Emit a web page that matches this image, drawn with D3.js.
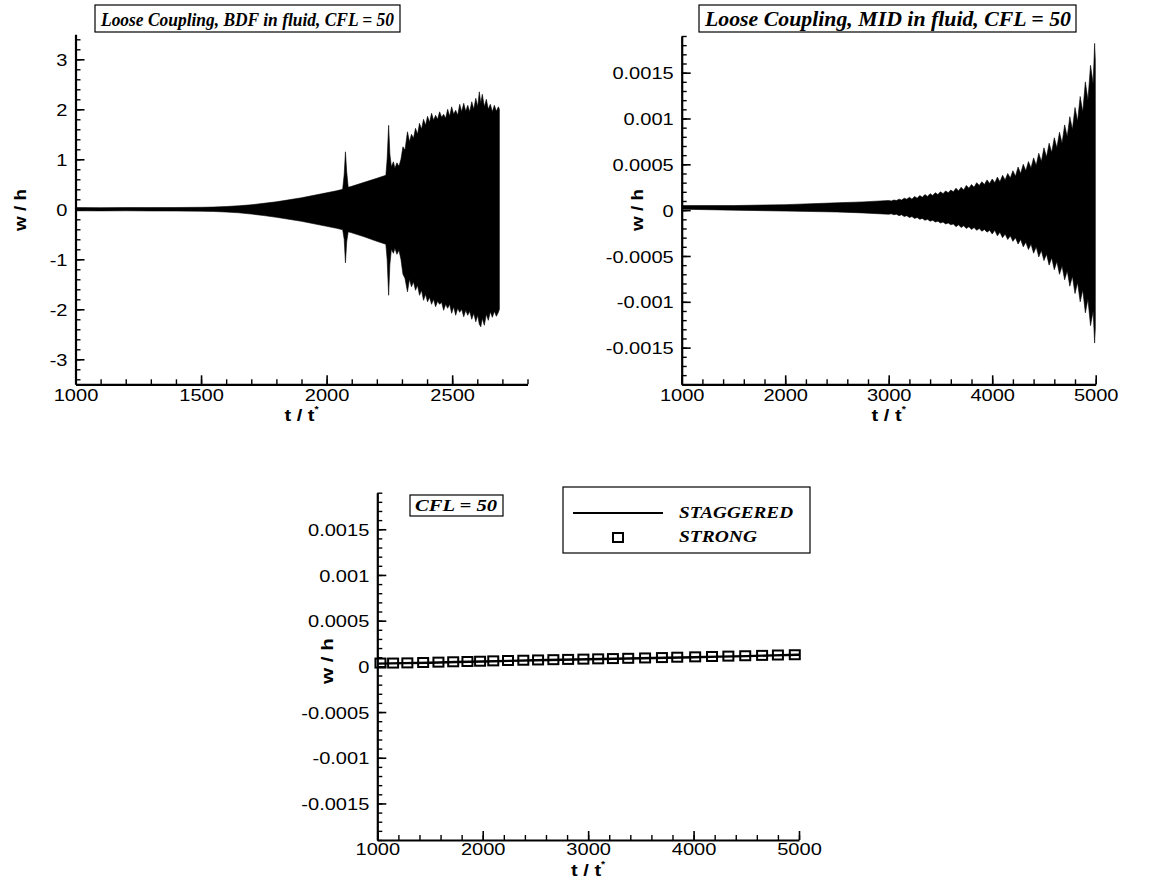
<!DOCTYPE html>
<html>
<head>
<meta charset="utf-8">
<script src="https://cdn.jsdelivr.net/npm/d3@7"></script>
<style>
  body { margin: 0; background: #fff; }
  svg { display: block; }
</style>
</head>
<body>
<svg id="chart" width="1172" height="886"></svg>
<script>
// ---------- BDF in fluid: envelope of the oscillating w/h signal ----------
const bdfTime = [1000, 1100, 1200, 1300, 1400, 1500, 1550, 1600, 1650, 1700, 1750, 1800, 1850, 1900, 1950, 2000, 2040, 2064, 2070, 2075, 2080, 2086, 2100, 2150, 2200, 2236, 2241, 2247, 2252, 2258, 2266, 2272, 2280, 2288, 2296, 2304, 2312, 2322, 2330, 2338, 2346, 2354, 2362, 2370, 2378, 2386, 2394, 2402, 2410, 2418, 2426, 2434, 2442, 2450, 2458, 2466, 2474, 2482, 2490, 2498, 2506, 2514, 2522, 2530, 2538, 2546, 2554, 2562, 2570, 2578, 2586, 2594, 2602, 2608, 2614, 2620, 2628, 2636, 2644, 2652, 2660, 2668, 2676, 2684, 2688];
const bdfUpper = [0.035, 0.033, 0.035, 0.034, 0.036, 0.04, 0.045, 0.055, 0.07, 0.09, 0.12, 0.15, 0.19, 0.23, 0.28, 0.33, 0.37, 0.40, 0.7, 1.15, 0.75, 0.44, 0.46, 0.54, 0.62, 0.68, 1.0, 1.68, 1.1, 0.85, 0.95, 0.82, 0.93, 0.86, 1.0, 1.25, 1.18, 1.55, 1.35, 1.5, 1.42, 1.62, 1.5, 1.72, 1.6, 1.8, 1.68, 1.86, 1.74, 1.92, 1.78, 1.88, 1.8, 1.95, 1.84, 1.9, 1.82, 2.0, 1.86, 2.05, 1.9, 1.98, 1.88, 2.1, 1.95, 2.12, 1.96, 2.08, 1.95, 2.15, 2.0, 2.22, 2.05, 2.35, 2.12, 2.3, 2.05, 2.2, 2.0, 2.1, 1.95, 2.08, 1.96, 2.05, 2.0];
const bdfLower = [-0.03, -0.032, -0.03, -0.033, -0.034, -0.038, -0.043, -0.055, -0.07, -0.095, -0.125, -0.16, -0.2, -0.24, -0.29, -0.34, -0.38, -0.41, -0.6, -1.07, -0.65, -0.45, -0.47, -0.55, -0.64, -0.70, -1.0, -1.72, -1.1, -0.8, -0.88, -0.78, -0.9, -0.82, -1.0, -1.3, -1.38, -1.65, -1.4, -1.55, -1.45, -1.62, -1.52, -1.72, -1.62, -1.82, -1.7, -1.85, -1.76, -1.9, -1.8, -1.95, -1.84, -1.9, -1.86, -2.02, -1.9, -1.98, -1.9, -2.08, -1.95, -2.12, -1.98, -2.06, -2.0, -2.15, -2.02, -2.12, -2.04, -2.2, -2.08, -2.25, -2.12, -2.3, -2.35, -2.18, -2.32, -2.1, -2.22, -2.05, -2.16, -2.04, -2.14, -2.06, -2.0];

// ---------- MID in fluid: envelope of the growing oscillation ----------
const midTime = [1000, 1500, 2000, 2500, 2750, 3000, 3025, 3050, 3075, 3100, 3125, 3150, 3175, 3200, 3225, 3250, 3275, 3300, 3325, 3350, 3375, 3400, 3425, 3450, 3475, 3500, 3525, 3550, 3575, 3600, 3625, 3650, 3675, 3700, 3725, 3750, 3775, 3800, 3825, 3850, 3875, 3900, 3925, 3950, 3975, 4000, 4025, 4050, 4075, 4100, 4125, 4150, 4175, 4200, 4225, 4250, 4275, 4300, 4325, 4350, 4375, 4400, 4425, 4450, 4475, 4500, 4525, 4550, 4575, 4600, 4625, 4650, 4675, 4700, 4725, 4750, 4775, 4800, 4825, 4850, 4875, 4900, 4925, 4950, 4975, 4990, 5000];
const midUpper = [0.00005, 0.00005, 0.00006, 0.00008, 0.00009, 0.000105, 0.0001, 0.00011, 0.000105, 0.00012, 0.00011, 0.00013, 0.00012, 0.00014, 0.00012, 0.00015, 0.00013, 0.00016, 0.00014, 0.00017, 0.00015, 0.00018, 0.00016, 0.00019, 0.00017, 0.0002, 0.00018, 0.00021, 0.00019, 0.00022, 0.0002, 0.00024, 0.00021, 0.00025, 0.00022, 0.00027, 0.00024, 0.00028, 0.00025, 0.0003, 0.00027, 0.00031, 0.00028, 0.00033, 0.00029, 0.00034, 0.0003, 0.00036, 0.00031, 0.00038, 0.00033, 0.0004, 0.00035, 0.00043, 0.00037, 0.00047, 0.0004, 0.0005, 0.00043, 0.00053, 0.00046, 0.00057, 0.00049, 0.00062, 0.00053, 0.00068, 0.00058, 0.00073, 0.00063, 0.00079, 0.00068, 0.00085, 0.00073, 0.00093, 0.0008, 0.00102, 0.00088, 0.00112, 0.00097, 0.00124, 0.00107, 0.0014, 0.0012, 0.00158, 0.00138, 0.00182, 0.0016];
const midLower = [0.00001, 0.0, -0.00001, -0.00002, -0.00003, -0.000045, -0.00004, -0.00005, -0.000045, -0.00006, -0.00005, -0.00007, -0.00006, -0.00008, -0.00007, -0.00009, -0.00008, -0.0001, -0.00009, -0.00011, -0.0001, -0.00012, -0.00011, -0.00013, -0.00012, -0.00014, -0.00013, -0.00015, -0.00014, -0.00016, -0.00015, -0.00018, -0.00016, -0.00019, -0.00017, -0.0002, -0.00018, -0.00021, -0.00019, -0.00022, -0.0002, -0.00023, -0.00021, -0.00024, -0.00022, -0.00026, -0.00022, -0.00028, -0.00024, -0.0003, -0.00026, -0.00032, -0.00028, -0.00034, -0.0003, -0.00037, -0.00032, -0.0004, -0.00035, -0.00043, -0.00037, -0.00047, -0.0004, -0.00051, -0.00044, -0.00055, -0.00048, -0.0006, -0.00052, -0.00065, -0.00056, -0.0007, -0.00061, -0.00076, -0.00066, -0.00083, -0.00072, -0.00091, -0.00079, -0.001, -0.00087, -0.00112, -0.00097, -0.00126, -0.0011, -0.00145, -0.00125];

// ---------- CFL = 50 comparison: staggered line vs strong coupling ----------
const staggeredTime = [1000, 1250, 1500, 1750, 2000, 2250, 2500, 2750, 3000, 3250, 3500, 3750, 4000, 4250, 4500, 4750, 5000];
const staggeredW = [0.00003, 0.000035, 0.00004, 0.000047, 0.000053, 0.00006, 0.000066, 0.000072, 0.000078, 0.000083, 0.000088, 0.000094, 0.0001, 0.000106, 0.000112, 0.00012, 0.000127];
const strongTime = [1030, 1150, 1285, 1435, 1580, 1720, 1855, 1975, 2100, 2240, 2385, 2525, 2670, 2810, 2955, 3095, 3235, 3380, 3540, 3700, 3845, 4015, 4175, 4330, 4490, 4650, 4800, 4960];
const strongW = [0.000036, 0.000036, 0.000038, 0.000042, 0.000046, 0.00005, 0.000053, 0.000056, 0.00006, 0.000064, 0.000067, 0.00007, 0.000073, 0.000076, 0.000079, 0.000082, 0.000085, 0.000088, 0.000092, 0.000096, 0.0001, 0.000104, 0.000108, 0.000112, 0.000116, 0.00012, 0.000124, 0.000127];

// ---------- tick labels ----------
const bdfXTicks = [1000, 1500, 2000, 2500];
const bdfYTicks = [-3, -2, -1, 0, 1, 2, 3];
const timeTicks = [1000, 2000, 3000, 4000, 5000];
const smallYTicks = [-0.0015, -0.001, -0.0005, 0, 0.0005, 0.001, 0.0015];

// ---------- titles and legend ----------
const titles = ["Loose Coupling, BDF in fluid, CFL = 50", "Loose Coupling, MID in fluid, CFL = 50", "CFL = 50"];
const legendLabels = ["STAGGERED", "STRONG"];

const svg = d3.select("#chart");
const SANS = "'Liberation Sans', Arial, Helvetica, sans-serif";
const SERIF = "'Liberation Serif', 'Times New Roman', Times, serif";
const STRETCH = 1.18;

function panel(cfg) {
  const g = svg.append("g");
  const x = d3.scaleLinear().domain(cfg.xDomain).range(cfg.xRange);
  const y = d3.scaleLinear().domain(cfg.yDomain).range(cfg.yRange);
  const fmt = d => String(d);

  const clipId = "clip" + cfg.id;
  svg.append("clipPath").attr("id", clipId).append("rect")
    .attr("x", cfg.xRange[0]).attr("y", cfg.yRange[1])
    .attr("width", cfg.xRange[1] - cfg.xRange[0])
    .attr("height", cfg.yRange[0] - cfg.yRange[1]);
  const plot = g.append("g").attr("clip-path", `url(#${clipId})`);

  // minor ticks
  g.append("g").attr("transform", `translate(0,${cfg.yRange[0]})`)
    .call(d3.axisBottom(x).tickValues(cfg.xMinor).tickSizeInner(-5).tickSizeOuter(0).tickFormat(""))
    .call(a => a.select(".domain").remove())
    .call(a => a.selectAll("line").attr("stroke-width", 1.4));
  g.append("g").attr("transform", `translate(${cfg.xRange[0]},0)`)
    .call(d3.axisLeft(y).tickValues(cfg.yMinor).tickSizeInner(-5).tickSizeOuter(0).tickFormat(""))
    .call(a => a.select(".domain").remove())
    .call(a => a.selectAll("line").attr("stroke-width", 1.4));

  // major ticks + labels
  const xa = g.append("g").attr("transform", `translate(0,${cfg.yRange[0]})`)
    .call(d3.axisBottom(x).tickValues(cfg.xTicks).tickSizeInner(-9).tickSizeOuter(0).tickPadding(cfg.xPad).tickFormat(fmt));
  const ya = g.append("g").attr("transform", `translate(${cfg.xRange[0]},0)`)
    .call(d3.axisLeft(y).tickValues(cfg.yTicks).tickSizeInner(-9).tickSizeOuter(0).tickPadding(8).tickFormat(fmt));
  [xa, ya].forEach(a => {
    a.select(".domain").attr("stroke-width", 2.2);
    a.selectAll(".tick line").attr("stroke-width", 1.6);
    a.selectAll("text").attr("font-family", SANS).attr("font-size", 17).attr("fill", "#000");
  });
  xa.selectAll("text").attr("transform", `scale(${STRETCH},1)`);
  ya.selectAll("text").attr("x", -8 / STRETCH).attr("dy", "0.36em").attr("transform", `scale(${STRETCH},1)`);

  // axis titles
  const cx = (cfg.xRange[0] + cfg.xRange[1]) / 2;
  const tl = g.append("text").attr("text-anchor", "middle")
    .attr("transform", `translate(${cx},${cfg.xLabelY}) scale(${STRETCH},1)`)
    .attr("font-family", SANS).attr("font-weight", "bold").attr("font-size", 17);
  tl.append("tspan").text("t / t");
  tl.append("tspan").text("*").attr("font-size", 9).attr("dy", -9);

  g.append("text").attr("text-anchor", "middle")
    .attr("transform", `translate(${cfg.yLabelX},${cfg.yLabelY}) rotate(-90)`)
    .attr("font-family", SANS).attr("font-weight", "bold").attr("font-size", 17)
    .attr("textLength", cfg.yLabelLen).attr("lengthAdjust", "spacingAndGlyphs")
    .text("w / h");

  return { g, x, y, plot };
}

function boxedTitle(text, bx, by, bw, bh, tx, ty, tlen, size) {
  svg.append("rect").attr("x", bx).attr("y", by).attr("width", bw).attr("height", bh)
    .attr("fill", "#fff").attr("stroke", "#000").attr("stroke-width", 1.2);
  svg.append("text").attr("x", tx).attr("y", ty)
    .attr("font-family", SERIF).attr("font-weight", "bold").attr("font-style", "italic")
    .attr("font-size", size).attr("textLength", tlen).attr("lengthAdjust", "spacingAndGlyphs")
    .text(text);
}

// ---------- panel 1: BDF ----------
const p1 = panel({
  id: 1, xDomain: [1000, 2800], xRange: [75.5, 527.5], yDomain: [-3.5, 3.5], yRange: [384.3, 34.3],
  xTicks: bdfXTicks, yTicks: bdfYTicks, xPad: 5,
  xMinor: d3.range(1000, 2801, 100), yMinor: d3.range(-34, 35, 2).map(v => v / 10),
  xLabelY: 421, yLabelX: 26, yLabelY: 210, yLabelLen: 42
});
const bdfData = bdfTime.map((t, i) => ({ t, hi: bdfUpper[i], lo: bdfLower[i] }));
p1.plot.append("path").datum(bdfData)
  .attr("fill", "#000").attr("stroke", "#000").attr("stroke-width", 0.6)
  .attr("d", d3.area().x(d => p1.x(d.t)).y0(d => p1.y(d.lo)).y1(d => p1.y(d.hi)));
boxedTitle(titles[0], 95, 5, 305, 27, 101, 26, 293, 18.5);

// ---------- panel 2: MID ----------
const p2 = panel({
  id: 2, xDomain: [1000, 5000], xRange: [681.7, 1095.7], yDomain: [-0.0019, 0.0019], yRange: [384.3, 36],
  xTicks: timeTicks, yTicks: smallYTicks, xPad: 5,
  xMinor: d3.range(1000, 5001, 200), yMinor: d3.range(-19, 20).map(v => v * 1e-4),
  xLabelY: 421, yLabelX: 643, yLabelY: 210, yLabelLen: 42
});
const midData = midTime.map((t, i) => ({ t, hi: midUpper[i], lo: midLower[i] }));
p2.plot.append("path").datum(midData)
  .attr("fill", "#000").attr("stroke", "#000").attr("stroke-width", 0.6)
  .attr("d", d3.area().x(d => p2.x(d.t)).y0(d => p2.y(d.lo)).y1(d => p2.y(d.hi)));
boxedTitle(titles[1], 699, 5, 377, 27, 705, 26, 366, 20.5);

// ---------- panel 3: comparison ----------
const p3 = panel({
  id: 3, xDomain: [1000, 5000], xRange: [377.3, 799], yDomain: [-0.0019, 0.0019], yRange: [840, 492.7],
  xTicks: timeTicks, yTicks: smallYTicks, xPad: 3,
  xMinor: d3.range(1000, 5001, 200), yMinor: d3.range(-19, 20).map(v => v * 1e-4),
  xLabelY: 876, yLabelX: 333, yLabelY: 661, yLabelLen: 46
});
p3.plot.append("path").datum(staggeredTime.map((t, i) => ({ t, w: staggeredW[i] })))
  .attr("fill", "none").attr("stroke", "#000").attr("stroke-width", 2.4)
  .attr("d", d3.line().x(d => p3.x(d.t)).y(d => p3.y(d.w)));
svg.append("g").selectAll("rect").data(strongTime.map((t, i) => ({ t, w: strongW[i] })))
  .join("rect")
  .attr("x", d => p3.x(d.t) - 5).attr("y", d => p3.y(d.w) - 4.5)
  .attr("width", 10).attr("height", 9)
  .attr("fill", "none").attr("stroke", "#000").attr("stroke-width", 2);
boxedTitle(titles[2], 410, 495, 93, 21, 415, 511, 82, 17);

// legend
const lg = svg.append("g");
lg.append("rect").attr("x", 563).attr("y", 487).attr("width", 247).attr("height", 66)
  .attr("fill", "#fff").attr("stroke", "#000").attr("stroke-width", 1.2);
lg.append("line").attr("x1", 573).attr("x2", 663).attr("y1", 513).attr("y2", 513)
  .attr("stroke", "#000").attr("stroke-width", 2);
lg.append("rect").attr("x", 613).attr("y", 533).attr("width", 10).attr("height", 9)
  .attr("fill", "none").attr("stroke", "#000").attr("stroke-width", 2);
[[legendLabels[0], 518, 114], [legendLabels[1], 541.5, 78]].forEach(([s, yy, len]) => {
  lg.append("text").attr("x", 679).attr("y", yy)
    .attr("font-family", SERIF).attr("font-weight", "bold").attr("font-style", "italic")
    .attr("font-size", 17).attr("textLength", len).attr("lengthAdjust", "spacingAndGlyphs")
    .text(s);
});
</script>
</body>
</html>
